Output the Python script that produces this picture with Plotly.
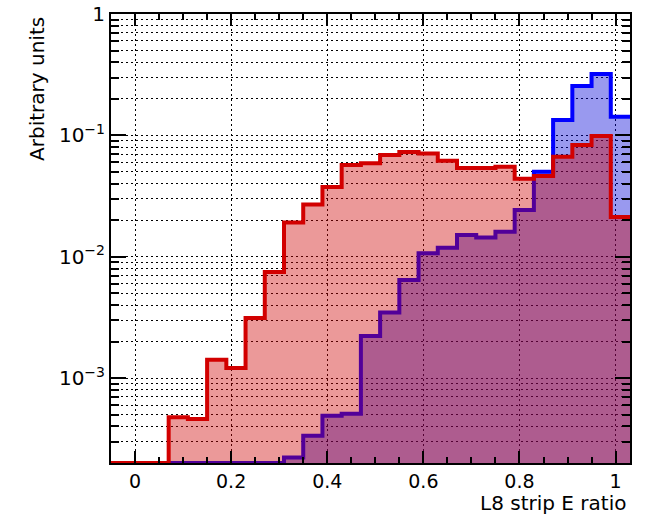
import numpy as np
import plotly.graph_objects as go

# Binning: 27 bins of width 0.04 from -0.05 to 1.03
bin_edges = [round(-0.05 + 0.04 * k, 2) for k in range(28)]

# Normalised contents (arbitrary units) per bin
blue_values = [
    0, 0, 0, 0, 0, 0, 0, 0, 0,
    2.22e-4, 3.35e-4, 4.9e-4, 5.1e-4,
    2.23e-3, 3.48e-3, 6.43e-3, 0.0107, 0.0119, 0.0151, 0.0144, 0.0161,
    0.0243, 0.0502, 0.134, 0.255, 0.321, 0.1426,
]
red_values = [
    0, 0, 0,
    4.77e-4, 4.6e-4, 1.42e-3, 1.21e-3, 3.13e-3, 7.5e-3,
    0.0192, 0.027, 0.0376, 0.057, 0.059, 0.069, 0.073, 0.071, 0.062,
    0.054, 0.054, 0.0553, 0.044, 0.0463, 0.0668, 0.0832, 0.0988, 0.0213,
]

x_ticks = [0, 0.2, 0.4, 0.6, 0.8, 1]
x_tick_text = ["0", "0.2", "0.4", "0.6", "0.8", "1"]

y_ticks = [1e-3, 1e-2, 1e-1, 1]
y_tick_text = ["10<sup>\u22123</sup>", "10<sup>\u22122</sup>",
               "10<sup>\u22121</sup>", "1"]

y_min, y_max = 2e-4, 1.0
x_min, x_max = -0.05, 1.03

FONT = "DejaVu Sans"
GRID_DASH = "2px,3px"

# log-axis minor ticks at 2..9 x 10^n inside the visible range
y_minor = [m * 10.0 ** e for e in range(-4, 0) for m in range(2, 10)
           if y_min <= m * 10.0 ** e <= y_max]


def step_outline(edges, values, floor):
    """Histogram outline: empty bins sit on the bottom of the frame."""
    vals = [v if v > 0 else floor for v in values]
    xs, ys = [], []
    for i, v in enumerate(vals):
        xs += [edges[i], edges[i + 1]]
        ys += [v, v]
    return xs, ys


def add_hist(fig, values, line_color, fill_color):
    xs, ys = step_outline(bin_edges, values, y_min)
    # filled area, closed well below the visible range
    fig.add_trace(go.Scatter(
        x=[xs[0]] + xs + [xs[-1]],
        y=[1e-7] + ys + [1e-7],
        mode="lines", fill="toself", fillcolor=fill_color,
        line=dict(width=0), hoverinfo="skip", showlegend=False,
    ))
    # outline on top of the fill
    fig.add_trace(go.Scatter(
        x=xs, y=ys, mode="lines",
        line=dict(color=line_color, width=4),
        showlegend=False,
    ))


fig = go.Figure()
add_hist(fig, blue_values, "rgb(0,0,255)", "rgba(0,0,215,0.4)")
add_hist(fig, red_values, "rgb(210,0,0)", "rgba(204,0,0,0.4)")

fig.update_layout(
    width=648, height=514,
    margin=dict(l=111, r=18, t=14, b=51, autoexpand=False),
    paper_bgcolor="white", plot_bgcolor="white",
    font=dict(family=FONT, color="black", size=20),
    showlegend=False,
    xaxis=dict(
        range=[x_min, x_max], automargin=False,
        tickmode="array", tickvals=x_ticks, ticktext=x_tick_text,
        ticks="inside", ticklen=12, tickwidth=2, tickcolor="black",
        showline=True, linewidth=2, linecolor="black", mirror="ticks",
        showgrid=True, gridcolor="black", gridwidth=1, griddash=GRID_DASH,
        zeroline=False,
        tickfont=dict(family=FONT, size=19, color="black"),
        minor=dict(dtick=0.05, tick0=0, ticks="inside", ticklen=6,
                   tickwidth=2, tickcolor="black", showgrid=False),
    ),
    yaxis=dict(
        type="log", automargin=False,
        range=[np.log10(y_min), np.log10(y_max) + 0.0005],
        tickmode="array", tickvals=y_ticks, ticktext=y_tick_text,
        ticks="inside", ticklen=15, tickwidth=2, tickcolor="black",
        showline=True, linewidth=2, linecolor="black", mirror="ticks",
        showgrid=True, gridcolor="black", gridwidth=1, griddash=GRID_DASH,
        zeroline=False,
        tickfont=dict(family=FONT, size=20, color="black"),
        minor=dict(tickmode="array", tickvals=y_minor,
                   ticks="inside", ticklen=8, tickwidth=2,
                   tickcolor="black", showgrid=True, gridcolor="black",
                   gridwidth=1, griddash=GRID_DASH),
    ),
    annotations=[
        dict(text="Arbitrary units", xref="paper", yref="paper",
             x=-0.1426, y=0.998, xanchor="center", yanchor="top",
             textangle=-90, showarrow=False,
             font=dict(family=FONT, size=20, color="black")),
        dict(text="L8 strip E ratio", xref="paper", yref="paper",
             x=0.996, y=-0.09, xanchor="right", yanchor="middle",
             showarrow=False,
             font=dict(family=FONT, size=20, color="black")),
    ],
)

fig.write_html("out.html")
